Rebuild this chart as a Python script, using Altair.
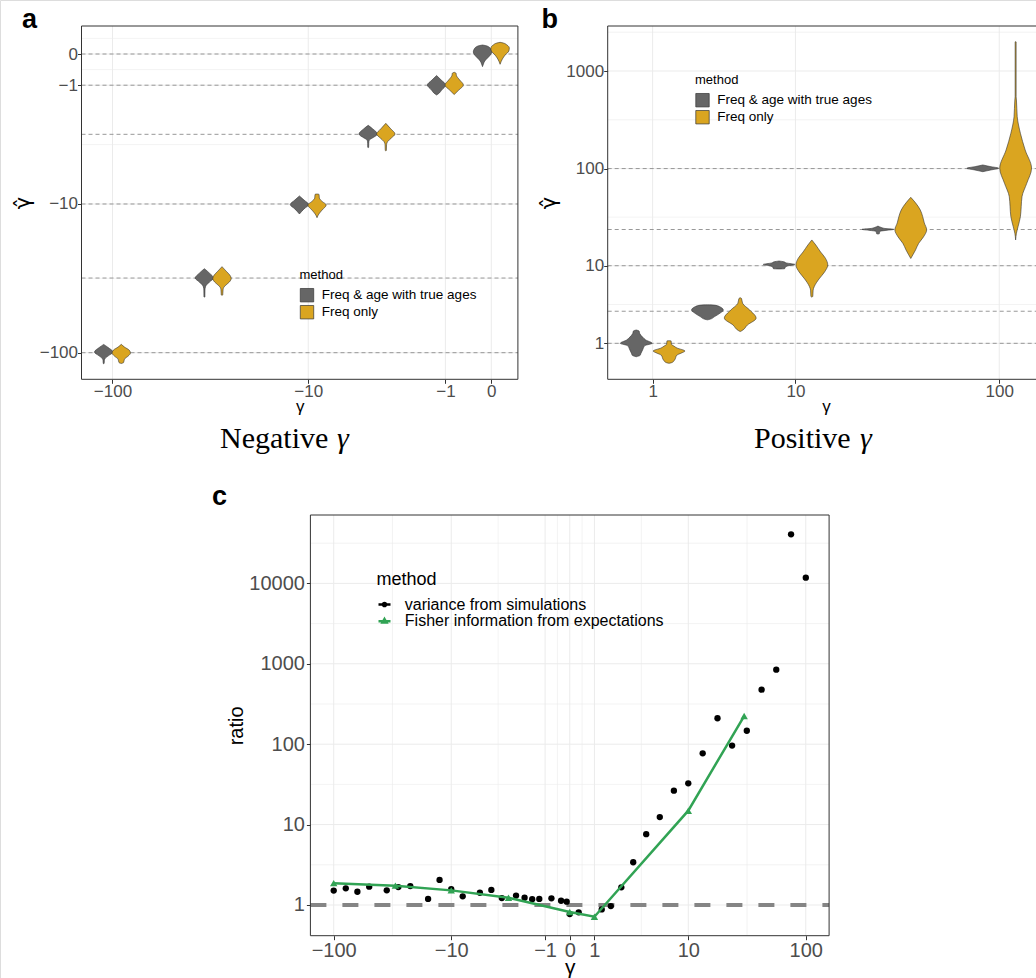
import altair as alt
import numpy as np
import pandas as pd

FONT = "Liberation Sans"
SERIF = "Liberation Serif"
GREY, GOLD, GREEN = "#666666", "#DAA520", "#31A354"
METHODS_AB = ["Freq & age with true ages", "Freq only"]
METHODS_C = ["variance from simulations", "Fisher information from expectations"]

# ---------------- panel a: negative gamma ----------------
neg_truth = [0, -1, -3.16, -10, -31.6, -100]
neg_pos = [-100, -31.6, -10, -3.85, -1, 0]
neg_joint_est = [
    [-88, -92, -99, -105, -110, -113, -118, -118.5],
    [-27.35, -29.3, -31.6, -33.6, -36.1, -38, -42.2, -42.5],
    [-8.81, -9.4, -10.1, -10.8, -11.7],
    [-2.67, -2.86, -3.14, -3.38, -3.5, -3.7, -3.98, -4.0],
    [-0.676, -0.824, -0.994, -1.17, -1.275, -1.35],
    [0.278, 0.247, 0.154, 0.062, -0.031, -0.123, -0.216, -0.31, -0.392],
]
neg_joint_w = [
    [0, 0.45, 1, 0.5, 0.12, 0.07, 0.05, 0],
    [0, 0.55, 1, 0.55, 0.12, 0.06, 0.05, 0],
    [0, 0.5, 1, 0.5, 0],
    [0, 0.5, 1, 0.45, 0.12, 0.06, 0.05, 0],
    [0, 0.5, 1, 0.55, 0.3, 0],
    [0, 0.5, 0.9, 1, 0.85, 0.55, 0.25, 0.1, 0],
]
neg_freq_est = [
    [-87.9, -91.7, -96, -100.5, -105.3, -110.3, -116.4, -118.1],
    [-26.5, -28.4, -30.2, -31.8, -33.6, -35.8, -37.4, -41, -41.3],
    [-8.54, -8.6, -9.1, -9.6, -10.15, -11.0, -11.7, -12.4],
    [-2.57, -2.86, -3.14, -3.38, -3.6, -3.8, -4.2, -4.22],
    [-0.571, -0.6, -0.68, -0.824, -0.994, -1.17, -1.3, -1.33],
    [0.362, 0.34, 0.278, 0.185, 0.093, -0.031, -0.154, -0.318],
]
neg_freq_w = [
    [0, 0.35, 0.85, 1, 0.75, 0.35, 0.25, 0],
    [0, 0.45, 0.85, 1, 0.8, 0.3, 0.12, 0.08, 0],
    [0, 0.22, 0.25, 0.55, 1, 0.55, 0.2, 0],
    [0, 0.55, 1, 0.6, 0.2, 0.08, 0.06, 0],
    [0, 0.2, 0.25, 0.6, 1, 0.5, 0.1, 0],
    [0, 0.35, 0.75, 1, 0.95, 0.55, 0.25, 0],
]

# ---------------- panel b: positive gamma ----------------
pos_truth = [1, 3.16, 10, 23.7, 100]
pos_pos = [1, 3.85, 10, 31.6, 100]
pos_joint_est = [
    [1.764, 1.70, 1.55, 1.34, 1.18, 1.0, 0.88, 0.66, 0.5, 0.4, 0.33],
    [3.76, 3.74, 3.6, 3.26, 3.0, 2.71, 2.5, 2.46],
    [11.2, 11.0, 10.7, 10.3, 10.0, 9.7, 9.3, 9.25],
    [25.7, 24.9, 24.2, 23.8, 23.2, 22.7, 21.4, 21.3],
    [108.9, 105, 100.7, 96.7, 92.9],
]
pos_joint_w = [
    [0, 0.18, 0.22, 0.4, 0.6, 1, 0.55, 0.4, 0.3, 0.25, 0],
    [0, 0.4, 0.75, 1, 0.8, 0.45, 0.15, 0],
    [0, 0.3, 0.45, 1, 0.6, 0.4, 0.35, 0],
    [0, 0.2, 0.5, 1, 0.5, 0.12, 0.08, 0],
    [0, 0.45, 1, 0.5, 0],
]
pos_freq_est = [
    [1.14, 1.13, 0.95, 0.86, 0.758, 0.608, 0.5, 0.413, 0.175, 0.06, 0.02],
    [4.53, 4.45, 3.92, 3.26, 2.59, 2.09, 1.72, 1.67],
    [18.5, 16.4, 13.9, 12.0, 10.2, 8.6, 7.25, 6.0, 5.5, 4.7, 4.6],
    [50.7, 44.5, 37.6, 32.1, 27.7, 23.5, 19.9, 17.1, 14.6, 11.9],
    [2000, 1990, 545, 505, 340, 230, 155, 100.7, 70.7, 51.5, 40.6, 32.1, 25.3, 21.7, 18.5],
]
pos_freq_w = [
    [0, 0.13, 0.15, 0.3, 0.5, 1, 0.75, 0.5, 0.35, 0.2, 0],
    [0, 0.08, 0.15, 0.6, 1, 0.45, 0.1, 0],
    [0, 0.25, 0.55, 0.85, 1, 0.8, 0.45, 0.15, 0.08, 0.06, 0],
    [0, 0.3, 0.6, 0.75, 0.85, 1, 0.8, 0.5, 0.3, 0],
    [0, 0.03, 0.03, 0.05, 0.1, 0.3, 0.6, 1, 0.7, 0.4, 0.35, 0.3, 0.15, 0.05, 0],
]

# ---------------- panel c: variance ratio ----------------
var_gamma = [-100, -79, -63, -50, -35.5, -28.3, -22.4, -15.8, -12.6, -10, -7.95, -5.6,
             -4.4, -3.5, -2.5, -2.0, -1.6, -1.26, -0.73, -0.34, -0.12, 0, 0.35, 1.33,
             1.78, 2.37, 3.16, 4.22, 5.62, 7.5, 10, 13.3, 17.8, 23.7, 31.6, 42.2, 56.2,
             75, 100]
var_ratio = [1.51, 1.61, 1.46, 1.69, 1.52, 1.67, 1.72, 1.19, 2.05, 1.57, 1.28, 1.42,
             1.54, 1.22, 1.31, 1.23, 1.18, 1.19, 1.21, 1.13, 1.10, 0.77, 0.81, 0.88,
             0.97, 1.66, 3.40, 7.6, 12.4, 26.4, 32.6, 77, 210, 96, 147, 476, 845,
             40800, 11780]
fisher_gamma = [-100, -30, -10, -3, 0, 1, 10, 30]
fisher_ratio = [1.87, 1.74, 1.52, 1.23, 0.82, 0.715, 14.9, 224]

# tick labels
neg_x_ticks = [-100, -10, -1, 0]
neg_y_ticks = [-100, -10, -1, 0]
pos_x_ticks = [1, 10, 100]
pos_y_ticks = [1, 10, 100, 1000]
c_x_ticks = [-100, -10, -1, 0, 1, 10, 100]
c_y_ticks = [1, 10, 100, 1000, 10000]


# ---------------- pseudo-log transforms ----------------
def sym15(v):
    v = np.asarray(v, float)
    return np.sign(v) * np.log1p(np.abs(v) / 1.5)


def ash(v):
    return np.arcsinh(np.asarray(v, float) / 2)


def ash_expr(f):
    return f"(datum.{f}<0?-1:1)*log(abs(datum.{f})/2+sqrt(datum.{f}*datum.{f}/4+1))"


def sym_expr(f):
    return f"(datum.{f}<0?-1:1)*log(1+abs(datum.{f})/1.5)"


INV_ASH = "format(round(exp(datum.value)-exp(-datum.value)),'d')"
INV_SYM = "format(round((datum.value<0?-1:1)*1.5*(exp(abs(datum.value))-1)),'d')"


def fl(a):
    return [float(x) for x in a]


def midpoints(a):
    a = list(a)
    return [(a[i] + a[i + 1]) / 2 for i in range(len(a) - 1)]


def make_axis(orient, offset, values, title, label_size, title_size, title_pos,
              label_expr=None, fmt=None, label_pad=0, title_font=FONT):
    kw = dict(orient=orient, offset=offset, values=fl(values), title=title, grid=False,
              domain=False, ticks=True, tickSize=4, tickColor="#333333", tickWidth=1,
              labelFont=FONT, labelFontSize=label_size, labelColor="#4D4D4D",
              labelPadding=label_pad, labelOverlap=False, labelFlush=False,
              titleFont=title_font, titleFontSize=title_size, titleColor="black",
              titleFontWeight="normal", titleBaseline="alphabetic")
    if label_expr:
        kw["labelExpr"] = label_expr
    if fmt:
        kw["format"] = fmt
    if orient == "bottom":
        kw["titleY"] = title_pos
    else:
        kw["titleX"] = title_pos
    return alt.Axis(**kw)


def violin_frame(pos, j_est, j_w, f_est, f_w):
    rows = []
    for i, p in enumerate(pos):
        for m, E, W in ((METHODS_AB[0], j_est, j_w), (METHODS_AB[1], f_est, f_w)):
            for e, w in zip(E[i], W[i]):
                rows.append(dict(pos=p, method=m, vid=f"{m}|{p}", est=e, w=w))
    return pd.DataFrame(rows)


ONE = pd.DataFrame({"k": [0]})
GRID = "#EBEBEB"


def grid_layers(xs, ys, xa, ya, xdom, ydom, xmaj, xmin_, ymaj, ymin_):
    out = []
    for vals, w in ((xmin_, 0.6), (xmaj, 1.0)):
        if len(vals):
            out.append(alt.Chart(pd.DataFrame({"t": fl(vals)})).mark_rule(color=GRID, strokeWidth=w).encode(
                x=alt.X("t:Q", scale=xs, axis=xa),
                y=alt.YDatum(ydom[0], scale=ys, axis=ya), y2=alt.Y2Datum(ydom[1])))
    for vals, w in ((ymin_, 0.6), (ymaj, 1.0)):
        if len(vals):
            out.append(alt.Chart(pd.DataFrame({"t": fl(vals)})).mark_rule(color=GRID, strokeWidth=w).encode(
                y=alt.Y("t:Q", scale=ys, axis=ya),
                x=alt.XDatum(xdom[0], scale=xs, axis=xa), x2=alt.X2Datum(xdom[1])))
    return out


def border(xs, ys, xa, ya, xdom, ydom):
    return alt.Chart(ONE).mark_rect(filled=False, color="#333333", strokeWidth=1).encode(
        x=alt.XDatum(xdom[0], scale=xs, axis=xa), x2=alt.X2Datum(xdom[1]),
        y=alt.YDatum(ydom[0], scale=ys, axis=ya), y2=alt.Y2Datum(ydom[1]))


def violin_panel(xdom, xrange_, ydom, yrange_, x_ticks, y_ticks, y_minor, truth,
                 frame, dodge, hw, legend_xy, x_off, y_off):
    xs = alt.Scale(domain=xdom, range=xrange_, nice=False, zero=False)
    ys = alt.Scale(domain=ydom, range=yrange_, nice=False, zero=False)
    xa = make_axis("bottom", x_off, sym15(x_ticks), "γ", 17, 17, 32, label_expr=INV_SYM)
    ya = make_axis("left", y_off, ash(y_ticks), "γ̂", 17, 21, -52, label_expr=INV_ASH,
                   title_font="DejaVu Sans")
    layers = grid_layers(xs, ys, xa, ya, xdom, ydom, sym15(x_ticks), [], ash(y_ticks), y_minor)
    truth_df = pd.DataFrame({"truth": truth})
    layers.append(
        alt.Chart(truth_df).transform_calculate(yt=ash_expr("truth"))
        .mark_rule(color="#8C8C8C", strokeWidth=0.9, strokeDash=[4, 3])
        .encode(y=alt.Y("yt:Q", scale=ys, axis=ya),
                x=alt.XDatum(xdom[0], scale=xs, axis=xa), x2=alt.X2Datum(xdom[1])))
    legend = alt.Legend(orient="none", legendX=legend_xy[0], legendY=legend_xy[1],
                        title="method", titleFont=FONT, titleFontSize=13,
                        titleFontWeight="normal", titleColor="black", titlePadding=5.7,
                        labelFont=FONT, labelFontSize=13.5, labelColor="black",
                        labelOffset=7.3, labelLimit=400, symbolType="square", symbolSize=180,
                        symbolStrokeColor="#333333", symbolStrokeWidth=0.7,
                        symbolOpacity=1, rowPadding=0, padding=0)
    layers.append(
        alt.Chart(frame).transform_calculate(
            xc=sym_expr("pos") + f"+(datum.method=='{METHODS_AB[0]}'?-{dodge}:{dodge})",
            yt=ash_expr("est"))
        .transform_calculate(xl=f"datum.xc-{hw}*datum.w", xr=f"datum.xc+{hw}*datum.w")
        .mark_area(orient="horizontal", interpolate="monotone", stroke="#333333",
                   strokeWidth=0.6, opacity=1)
        .encode(y=alt.Y("yt:Q", scale=ys, axis=ya),
                x=alt.X("xl:Q", scale=xs, axis=xa, stack=None), x2="xr:Q",
                detail="vid:N",
                fill=alt.Fill("method:N", scale=alt.Scale(domain=METHODS_AB, range=[GREY, GOLD]),
                              legend=legend)))
    layers.append(border(xs, ys, xa, ya, xdom, ydom))
    return alt.layer(*layers)


# panel a
neg_frame = violin_frame(neg_pos, neg_joint_est, neg_joint_w, neg_freq_est, neg_freq_w)
neg_y_minor = midpoints(ash([-100, -10, -1, 0, 1]))
panel_a = violin_panel([-4.5594, 0.2959], [81.5, 517.9], [-5.0154, 0.4317], [379.3, 26],
                       neg_x_ticks, neg_y_ticks, neg_y_minor, neg_truth, neg_frame,
                       0.0979, 0.1024, (299.5, 269), -598.7, -81.5)

# panel b
pos_frame = violin_frame(pos_pos, pos_joint_est, pos_joint_w, pos_freq_est, pos_freq_w)
_yb = list(ash(pos_y_ticks))
pos_y_minor = midpoints(_yb + [_yb[-1] + (_yb[1] - _yb[0])])
panel_b = violin_panel([0.0307, 4.6973], [607.7, 1044.4], [-0.368, 7.970], [379.3, 26],
                       pos_x_ticks, pos_y_ticks, pos_y_minor, pos_truth, pos_frame,
                       0.1753, 0.170, (695, 74), -598.7, -607.7)

# panel c
cxd, cyd = [-5.06, 5.06], [0.415, 70900]
cxs = alt.Scale(domain=cxd, range=[310.4, 829.1], nice=False, zero=False)
cys = alt.Scale(type="log", domain=cyd, range=[935.7, 515], nice=False)
cxa = make_axis("bottom", -42.3, ash(c_x_ticks), "γ", 20, 21, 37.5, label_expr=INV_ASH, label_pad=1)
cya = make_axis("left", -310.4, c_y_ticks, "ratio", 20, 20, -68.3, fmt="d", label_pad=2)
c_x_major = ash(c_x_ticks)
c_y_minor = [10 ** (k + 0.5) for k in range(0, 5)]
c_layers = grid_layers(cxs, cys, cxa, cya, cxd, cyd, c_x_major, midpoints(c_x_major),
                       c_y_ticks, c_y_minor)
c_layers.append(alt.Chart(ONE).mark_rule(color="#858585", strokeWidth=4, strokeDash=[16, 16]).encode(
    y=alt.YDatum(1, scale=cys, axis=cya),
    x=alt.XDatum(cxd[0], scale=cxs, axis=cxa), x2=alt.X2Datum(cxd[1])))
var_df = pd.DataFrame({"g": var_gamma, "r": var_ratio})
fisher_df = pd.DataFrame({"g": fisher_gamma, "r": fisher_ratio})
c_layers.append(alt.Chart(var_df).transform_calculate(xt=ash_expr("g"))
                .mark_circle(size=40, color="black", opacity=1)
                .encode(x=alt.X("xt:Q", scale=cxs, axis=cxa), y=alt.Y("r:Q", scale=cys, axis=cya)))
c_layers.append(alt.Chart(fisher_df).transform_calculate(xt=ash_expr("g"))
                .mark_line(color=GREEN, strokeWidth=2.5)
                .encode(x=alt.X("xt:Q", scale=cxs, axis=cxa), y=alt.Y("r:Q", scale=cys, axis=cya)))
c_layers.append(alt.Chart(fisher_df).transform_calculate(xt=ash_expr("g"))
                .mark_point(shape="triangle-up", filled=True, size=55, color=GREEN, opacity=1)
                .encode(x=alt.X("xt:Q", scale=cxs, axis=cxa), y=alt.Y("r:Q", scale=cys, axis=cya)))

# legend keys: a short line with a small heavily stroked symbol on it
CIRCLE_LINE = "M-1,0L1,0M-0.27,0A0.27,0.27,0,1,0,0.27,0A0.27,0.27,0,1,0,-0.27,0Z"
TRI_LINE = "M-1,0L1,0M0,-0.36L0.33,0.2L-0.33,0.2Z"
c_legend = alt.Legend(orient="none", legendX=376.5, legendY=571, title="method",
                      titleFont=FONT, titleFontSize=18, titleFontWeight="normal",
                      titleColor="black", titlePadding=7.5, labelFont=FONT,
                      labelFontSize=16, labelColor="black", labelOffset=12.3,
                      labelLimit=500, symbolSize=144, symbolStrokeWidth=2.5,
                      symbolOpacity=1, rowPadding=0.7, padding=0)
c_layers.append(alt.Chart(pd.DataFrame({"method": METHODS_C}))
                .mark_point(filled=False, opacity=1, strokeWidth=2.5, size=144)
                .encode(x=alt.value(-200), y=alt.value(-200),
                        color=alt.Color("method:N", scale=alt.Scale(domain=METHODS_C, range=["black", GREEN]), legend=c_legend),
                        shape=alt.Shape("method:N", scale=alt.Scale(domain=METHODS_C, range=[CIRCLE_LINE, TRI_LINE]), legend=c_legend)))
c_layers.append(border(cxs, cys, cxa, cya, cxd, cyd))
panel_c = alt.layer(*c_layers)


def label(text, x, y, size, weight="normal", font=FONT, align="left", style="normal"):
    return alt.Chart(ONE).mark_text(text=text, font=font, fontSize=size, fontWeight=weight,
                                    fontStyle=style, align=align, baseline="alphabetic",
                                    color="black").encode(x=alt.value(x), y=alt.value(y))


texts = [
    label("a", 22, 28.3, 27, "bold"),
    label("b", 541.5, 28.3, 27, "bold"),
    label("c", 212, 505, 27, "bold"),
    label("Negative", 220, 448.3, 30, font=SERIF),
    label("γ", 337, 448.3, 30, font=SERIF, style="italic"),
    label("Positive", 754, 448.3, 30, font=SERIF),
    label("γ", 860, 448.3, 30, font=SERIF, style="italic"),
]

chart = alt.layer(panel_a, panel_b, panel_c, *texts).resolve_scale(
    x="independent", y="independent", fill="independent", color="independent",
    shape="independent"
).properties(
    width=1036, height=978, padding=0, background="white",
    autosize=alt.AutoSizeParams(type="none")
).configure_view(strokeWidth=0).configure(font=FONT)

chart.save("out.html", embed_options={"renderer": "svg", "actions": False})
